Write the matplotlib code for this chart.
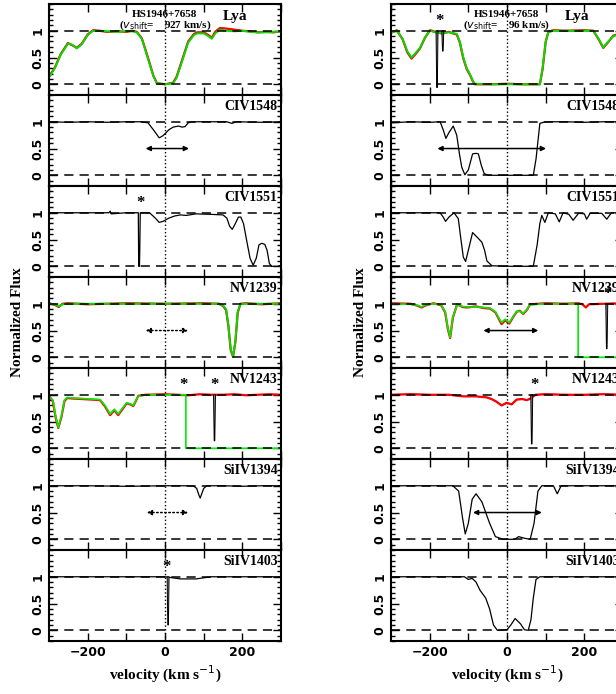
import matplotlib
matplotlib.use('Agg')
from matplotlib import pyplot as plt
from matplotlib.ticker import MultipleLocator

# ---------------- left column: v_shift = 927 km/s ----------------
a_lya_v = [-300, -285, -270, -251, -240, -228, -215, -200, -186, -170, -150, -120, -100, -85, -73, -60, -45, -30,
           -21, 0, 21, 30, 45, 60, 75, 83, 100, 112, 121, 130, 142, 160, 180, 200, 220, 240, 260, 280, 300]
a_lya_green = [0.13, 0.3, 0.55, 0.76, 0.74, 0.67, 0.75, 0.92, 1.0, 1.0, 0.99, 0.98, 0.99, 0.99, 0.97, 0.85, 0.5,
               0.15, 0.02, 0.0, 0.02, 0.12, 0.45, 0.78, 0.92, 0.95, 0.95, 0.9, 0.85, 0.95, 1.02, 1.0, 0.99, 1.0,
               0.98, 0.97, 0.97, 0.98, 0.98]
a_lya_red = [0.14, 0.31, 0.56, 0.77, 0.73, 0.68, 0.76, 0.93, 1.01, 1.0, 0.98, 0.99, 0.98, 1.0, 0.98, 0.86, 0.52,
             0.16, 0.02, 0.0, 0.03, 0.14, 0.47, 0.8, 0.94, 0.97, 0.97, 0.92, 0.87, 0.98, 1.05, 1.04, 1.02, 1.0,
             0.99, 0.97, 0.98, 0.97, 0.99]

a_c1548_v = [-300, -250, -200, -150, -100, -60, -44, -30, -15, -5, 10, 21, 35, 44, 52, 60, 70, 100, 160, 173, 185,
             250, 300]
a_c1548_f = [1.0, 0.99, 1.0, 0.99, 1.0, 1.0, 0.98, 0.85, 0.70, 0.74, 0.85, 0.9, 0.92, 0.9, 0.91, 0.98, 1.0, 1.0,
             1.0, 0.97, 1.0, 0.99, 1.0]

a_c1551_v = [-300, -200, -145, -142, -139, -100, -69, -68, -66, -65, -64, -40, -25, -15, -5, 10, 25, 40, 55, 80,
             120, 150, 160, 167, 174, 182, 190, 196, 203, 212, 220, 228, 236, 243, 250, 258, 264, 270, 276, 300]
a_c1551_f = [1.0, 1.0, 1.0, 1.03, 0.98, 1.0, 1.0, 0.0, 0.0, 0.45, 1.0, 1.0, 0.9, 0.82, 0.84, 0.9, 0.94, 0.96, 0.95,
             0.98, 0.97, 0.96, 0.9, 0.75, 0.69, 0.8, 0.92, 0.92, 0.8, 0.45, 0.15, 0.02, 0.15, 0.4, 0.43, 0.41, 0.3,
             0.05, 0.0, 0.0]

a_n1239_v = [-300, -285, -275, -265, -250, -200, -100, 0, 100, 140, 150, 158, 164, 170, 176, 182, 188, 195, 210,
             250, 300]
a_n1239_green = [1.0, 0.99, 0.95, 0.99, 1.0, 1.0, 1.0, 1.0, 1.0, 1.0, 0.97, 0.9, 0.6, 0.15, 0.02, 0.3, 0.85, 0.99,
                 1.0, 1.0, 1.0]
a_n1239_red = [1.01, 0.98, 0.94, 1.0, 1.01, 0.99, 1.01, 1.0, 1.01, 1.0, 0.96, 0.88, 0.58, 0.13, 0.01, 0.28, 0.83,
               1.0, 1.01, 0.99, 1.01]

a_n1243_v = [-300, -290, -283, -276, -268, -260, -253, -240, -214, -190, -168, -155, -142, -131, -121, -110, -99,
             -90, -82, -75, -69, -50, 0, 30, 54, 54, 300]
a_n1243_green = [0.97, 0.9, 0.6, 0.39, 0.6, 0.9, 0.95, 0.94, 0.93, 0.92, 0.91, 0.8, 0.64, 0.73, 0.64, 0.75, 0.85,
                 0.83, 0.8, 0.9, 0.97, 1.0, 1.0, 1.0, 1.0, 0.0, 0.0]
a_n1243_red_v = [-300, -290, -283, -276, -268, -260, -253, -240, -214, -190, -168, -155, -142, -131, -121, -110,
                 -99, -90, -82, -75, -69, -50, 0, 30, 60, 90, 120, 150, 180, 210, 240, 270, 300]
a_n1243_red = [0.98, 0.88, 0.58, 0.38, 0.58, 0.88, 0.94, 0.93, 0.92, 0.91, 0.9, 0.78, 0.62, 0.71, 0.62, 0.73, 0.84,
               0.82, 0.79, 0.89, 0.98, 1.0, 1.01, 1.0, 0.99, 1.01, 1.0, 1.0, 1.01, 0.99, 1.0, 1.01, 1.0]

a_s1394_v = [-300, -200, -100, 0, 60, 75, 82, 88, 91, 95, 100, 108, 150, 200, 250, 300]
a_s1394_f = [1.0, 1.0, 0.99, 1.0, 1.0, 0.99, 0.95, 0.82, 0.77, 0.85, 0.95, 1.0, 1.0, 0.99, 1.0, 1.0]

a_s1403_v = [-300, -200, -100, 0, 20, 40, 80, 100, 120, 200, 300]
a_s1403_f = [1.0, 1.0, 1.0, 1.0, 0.98, 0.96, 0.96, 0.98, 1.0, 1.0, 1.0]

# ---------------- right column: v_shift = 96 km/s ----------------
b_lya_v = [-300, -285, -270, -258, -247, -237, -225, -212, -199, -190, -180, -170, -150, -140, -130, -122, -113,
           -104, -96, -88, -83, -40, 0, 40, 85, 92, 100, 107, 120, 150, 200, 223, 237, 249, 262, 275, 300]
b_lya_green = [0.97, 1.0, 0.85, 0.62, 0.5, 0.58, 0.68, 0.88, 1.0, 0.98, 0.96, 0.96, 0.97, 0.96, 0.94, 0.8, 0.5,
               0.3, 0.19, 0.06, 0.01, 0.0, 0.0, 0.0, 0.0, 0.3, 0.8, 0.97, 1.0, 1.0, 1.0, 1.0, 0.85, 0.69, 0.8, 0.9,
               0.95]
b_lya_red = [0.96, 1.01, 0.84, 0.6, 0.48, 0.56, 0.67, 0.87, 1.01, 0.99, 0.97, 0.95, 0.98, 0.95, 0.93, 0.78, 0.48,
             0.28, 0.18, 0.05, 0.0, 0.0, 0.01, 0.0, 0.0, 0.28, 0.79, 0.98, 1.01, 1.0, 1.01, 1.0, 0.84, 0.68, 0.79,
             0.91, 0.96]

b_c1548_v = [-300, -250, -200, -173, -165, -158, -150, -139, -130, -123, -117, -109, -100, -89, -80, -74, -67, -59,
             -48, 0, 50, 68, 75, 85, 95, 102, 150, 200, 250, 300]
b_c1548_f = [0.98, 1.0, 0.99, 1.0, 0.85, 0.69, 0.8, 0.92, 0.75, 0.4, 0.15, 0.01, 0.1, 0.4, 0.41, 0.4, 0.2, 0.03,
             0.0, 0.0, 0.0, 0.0, 0.3, 0.97, 0.99, 1.0, 1.0, 0.99, 1.0, 1.0]

b_c1551_v = [-300, -200, -173, -165, -159, -150, -137, -126, -120, -113, -107, -100, -89, -78, -65, -58, -52, -39,
             0, 50, 68, 78, 85, 90, 98, 107, 125, 135, 145, 160, 171, 185, 200, 206, 215, 245, 258, 270, 300]
b_c1551_f = [1.0, 1.0, 1.0, 0.92, 0.84, 0.92, 1.0, 0.89, 0.55, 0.17, 0.09, 0.3, 0.63, 0.55, 0.45, 0.3, 0.1, 0.01,
             0.0, 0.0, 0.0, 0.4, 0.8, 0.95, 0.82, 1.0, 0.98, 0.83, 1.0, 0.97, 0.86, 0.99, 0.98, 0.88, 0.99, 0.99,
             0.88, 1.0, 1.0]

b_n1239_v = [-300, -250, -230, -221, -210, -190, -170, -160, -153, -147, -140, -129, -115, -104, -80, -60, -44, -30,
             -20, -14, -5, 6, 15, 25, 33, 42, 52, 60, 100, 150, 184, 184, 300]
b_n1239_green = [1.0, 0.99, 0.97, 0.94, 0.98, 1.0, 0.98, 0.85, 0.55, 0.37, 0.75, 0.98, 0.95, 0.94, 0.94, 0.93,
                 0.92, 0.85, 0.72, 0.65, 0.71, 0.65, 0.75, 0.86, 0.86, 0.82, 0.9, 0.98, 1.0, 1.0, 1.0, 0.0, 0.0]
b_n1239_red_v = [-300, -250, -230, -221, -210, -190, -170, -160, -153, -147, -140, -129, -115, -104, -80, -60, -44,
                 -30, -20, -14, -5, 6, 15, 25, 33, 42, 52, 60, 100, 150, 184, 195, 204, 212, 250, 300]
b_n1239_red = [1.01, 1.0, 0.96, 0.93, 0.97, 1.01, 0.97, 0.84, 0.53, 0.36, 0.74, 0.99, 0.94, 0.93, 0.95, 0.92, 0.91,
               0.84, 0.7, 0.62, 0.69, 0.63, 0.74, 0.85, 0.87, 0.81, 0.89, 0.99, 1.01, 1.0, 1.01, 0.99, 0.93, 0.99,
               1.0, 1.01]

b_n1243_v = [-300, -250, -200, -150, -113, -80, -52, -40, -27, -14, -1, 12, 25, 40, 51, 58, 74, 100, 150, 200, 250,
             300]
b_n1243_f = [1.0, 1.01, 1.0, 1.0, 0.97, 0.97, 0.95, 0.92, 0.87, 0.8, 0.85, 0.82, 0.91, 0.92, 0.9, 0.92, 1.0, 1.01,
             1.0, 1.0, 1.01, 1.0]

b_s1394_v = [-300, -200, -140, -125, -115, -108, -100, -90, -80, -65, -45, -30, -10, 20, 30, 45, 60, 70, 80, 90,
             120, 130, 140, 200, 300]
b_s1394_f = [1.0, 1.0, 1.0, 0.9, 0.4, 0.1, 0.3, 0.75, 0.85, 0.7, 0.3, 0.05, 0.0, 0.0, 0.05, 0.02, 0.0, 0.3, 0.9,
             1.0, 1.0, 0.85, 1.0, 1.0, 1.0]

b_s1403_v = [-300, -200, -110, -100, -90, -80, -70, -55, -45, -35, -25, 0, 10, 21, 35, 45, 55, 62, 68, 75, 85, 300]
b_s1403_f = [1.0, 1.0, 1.0, 0.95, 0.97, 0.9, 0.75, 0.6, 0.4, 0.1, 0.0, 0.01, 0.1, 0.22, 0.12, 0.01, 0.0, 0.2, 0.6,
             0.95, 1.0, 1.0]

ion_names = ['Lya', 'CIV1548', 'CIV1551', 'NV1239', 'NV1243', 'SiIV1394', 'SiIV1403']
v_shift = ['927', '96']

# (velocity, depth) of the narrow features flagged with '*'
spikes_a = {4: [(128, 0.14)], 6: [(8, 0.1)]}
spikes_b = {0: [(-181, -0.06), (-166, 0.62)], 3: [(258, 0.16)], 4: [(64, 0.08)]}
stars_a = {2: [-64], 4: [49, 129], 6: [5]}
stars_b = {0: [-175], 3: [261], 4: [70]}
# (panel, v_start, v_end, style)
arrows_a = [(1, -50, 62, '-'), (3, -50, 60, ':'), (5, -47, 60, ':')]
arrows_b = [(1, -180, 101, '-'), (3, -61, 81, '-'), (5, -88, 90, '-')]

left_data = [
    [(a_lya_v, a_lya_red, 'black', 0.8), (a_lya_v, a_lya_red, 'red', 1.6), (a_lya_v, a_lya_green, '#00dd00', 1.4)],
    [(a_c1548_v, a_c1548_f, 'black', 0.9)],
    [(a_c1551_v, a_c1551_f, 'black', 0.9)],
    [(a_n1239_v, a_n1239_red, 'red', 1.6), (a_n1239_v, a_n1239_green, '#00dd00', 1.4)],
    [(a_n1243_red_v, a_n1243_red, 'red', 1.6), (a_n1243_v, a_n1243_green, '#00ee00', 1.2)],
    [(a_s1394_v, a_s1394_f, 'black', 0.9)],
    [(a_s1403_v, a_s1403_f, 'black', 0.9)],
]
right_data = [
    [(b_lya_v, b_lya_red, 'red', 1.6), (b_lya_v, b_lya_green, '#00dd00', 1.4)],
    [(b_c1548_v, b_c1548_f, 'black', 0.9)],
    [(b_c1551_v, b_c1551_f, 'black', 0.9)],
    [(b_n1239_red_v, b_n1239_red, 'red', 1.6), (b_n1239_v, b_n1239_green, '#00ee00', 1.2)],
    [(b_n1243_v, b_n1243_f, 'black', 0.9), (b_n1243_v, b_n1243_f, 'red', 1.6)],
    [(b_s1394_v, b_s1394_f, 'black', 0.9)],
    [(b_s1403_v, b_s1403_f, 'black', 0.9)],
]

label_font = dict(family='Liberation Serif', weight='bold')

fig = plt.figure(figsize=(6.16, 6.94), dpi=100)
W, H = 616.0, 694.0
ax_w = 232 / W
ax_h = 91 / H


def draw_column(x0, data, spikes, stars, arrows, shift):
    axes = []
    for i in range(7):
        top = 4 + i * 91
        ax = fig.add_axes([x0 / W, 1 - (top + 91) / H, ax_w, ax_h])
        for v, f, col, lw in data[i]:
            ax.plot(v, f, color=col, lw=lw, zorder=2)
        for v, d in spikes.get(i, []):
            ax.fill([v - 2.5, v - 0.8, v + 0.8, v + 2.5], [1.0, d, d, 1.0], facecolor='0.55',
                    edgecolor='black', lw=0.7, zorder=3)
        for v in stars.get(i, []):
            ax.text(v, 1.04, '*', ha='center', va='bottom', fontsize=12, zorder=4, **label_font)
        ax.axhline(0, color='black', ls=(0, (6, 4)), lw=1.1, zorder=4)
        ax.axhline(1, color='black', ls=(0, (6, 4)), lw=1.1, zorder=4)
        ax.axvline(0, color='black', ls=':', lw=1.0, zorder=1)
        for p, v1, v2, ls in arrows:
            if p == i:
                ax.annotate('', xy=(v2, 0.5), xytext=(v1, 0.5),
                            arrowprops=dict(arrowstyle='<|-|>', lw=1.1, ls=ls, color='black',
                                            mutation_scale=7, shrinkA=0, shrinkB=0))
        ax.set_xlim(-300, 300)
        ax.set_ylim(-0.2, 1.5)
        ax.xaxis.set_major_locator(MultipleLocator(100))
        ax.yaxis.set_major_locator(MultipleLocator(0.5))
        ax.yaxis.set_minor_locator(MultipleLocator(0.1))
        ax.tick_params(which='both', direction='in', top=True, right=True, width=1.0)
        ax.tick_params(which='major', length=6)
        ax.tick_params(which='minor', length=3)
        ax.set_yticks([0, 0.5, 1])
        ax.set_yticklabels(['0', '0.5', '1'], rotation=90, va='center', fontsize=9, weight='bold')
        for s in ax.spines.values():
            s.set_linewidth(1.5)
        if i == 6:
            ax.set_xticks([-200, -100, 0, 100, 200])
            ax.set_xticklabels(['\u2212200', '', '0', '', '200'], fontsize=9, weight='bold')
            ax.set_xlabel(r'velocity (km s$^{-1}$)', fontsize=11, labelpad=4, **label_font)
        else:
            ax.set_xticklabels([])
        if i == 0:
            ax.text(150, 1.27, ion_names[i], ha='left', va='center', fontsize=11, **label_font)
            ax.text(0, 1.3, 'HS1946+7658', ha='center', va='center', fontsize=8, **label_font)
            ax.text(0, 1.1, r'($v_{\rm shift}$=    ' + shift + ' km/s)', ha='center', va='center',
                    fontsize=8, **label_font)
        else:
            ax.text(0.985, 0.875, ion_names[i], transform=ax.transAxes, ha='right', va='center',
                    fontsize=10, **label_font)
        axes.append(ax)
    return axes


left_axes = draw_column(49, left_data, spikes_a, stars_a, arrows_a, v_shift[0])
right_axes = draw_column(391, right_data, spikes_b, stars_b, arrows_b, v_shift[1])

fig.text(18 / W, 1 - 322 / H, 'Normalized Flux', rotation=90, ha='center', va='center', fontsize=11, **label_font)
fig.text(361 / W, 1 - 322 / H, 'Normalized Flux', rotation=90, ha='center', va='center', fontsize=11,
         **label_font)

fig.savefig('out.png', dpi=100)
